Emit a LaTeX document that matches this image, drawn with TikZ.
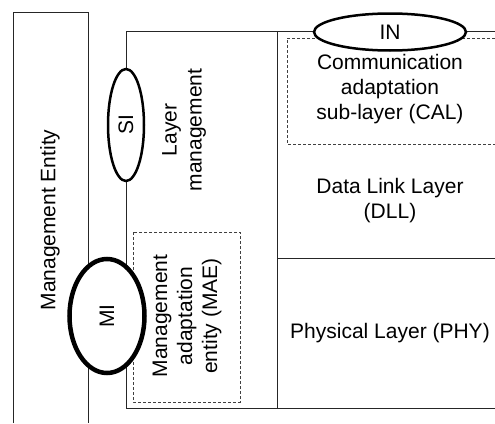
\documentclass[tikz,border=0pt]{standalone}
\usepackage{fontspec}
\setmainfont{Liberation Sans}
\usetikzlibrary{shapes.geometric}

\tikzset{
  frameline/.style={line width=0.8pt, draw=black!85},
  dashbox/.style={line width=0.6pt, draw=black!75, dash pattern=on 3pt off 2pt},
  iface/.style={ellipse, draw, fill=white, inner sep=0pt},
  sidetext/.style={rotate=90, align=center},
  layertext/.style={align=center},
}

\begin{document}
\begin{tikzpicture}[x=1pt,y=-1pt]
            \useasboundingbox (0,0) rectangle (495,423);
            {\fontsize{21}{25}\selectfont

            % Drawing frame of management entity
            \draw [frameline] (13,423) -- (13,12) -- (88,12) -- (88,423);%

            % Drawing frame of layer management and layers
            \draw [frameline] (495,31) -- (126,31) -- (126,408) -- (495,408);%
            \draw [frameline] (277,31) -- (277,408);%
            \draw [frameline] (277,258) -- (495,258);%

            % Drawing dashed boxes CAL and MAE
            \draw [dashbox] (495,38) -- (287,38) -- (287,144) -- (495,144);%
            \draw [dashbox] (133,232) rectangle (240,402);%

            % Marking texts
            \node [sidetext] (me) at (50,220) {Management Entity};%
            \node [sidetext] (lm) at (184,130) {Layer\\management};%
            \node [sidetext] (mae) at (187,316) {Management\\adaptation\\entity (MAE)};%
            \node [layertext] (cal) at (390,89) {Communication\\adaptation\\sub-layer (CAL)};%
            \node [layertext] (dll) at (390,201) {Data Link Layer\\(DLL)};%
            \node [layertext] (phy) at (390,333) {Physical Layer (PHY)};%

            % Marking interfaces SI, MI and IN by ellipses
            \node [iface, line width=2.5pt, rotate=90, minimum width=112pt, minimum height=36pt] (si) at (126,125) {SI};%
            \node [iface, line width=4.5pt, rotate=90, minimum width=114pt, minimum height=75pt] (mi) at (107,316) {MI};%
            \node [iface, line width=2.5pt, minimum width=152pt, minimum height=37pt] (in) at (390,32) {IN};%
            }
\end{tikzpicture}
\end{document}
